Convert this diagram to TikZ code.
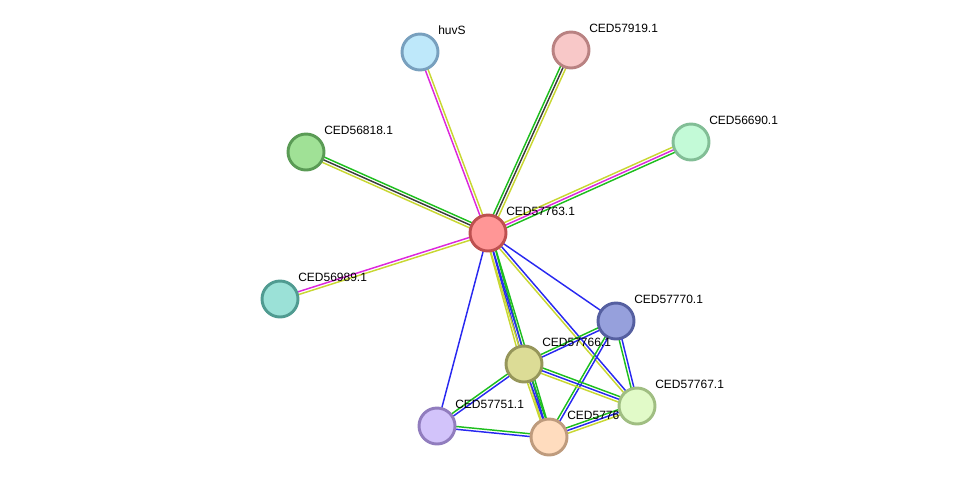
\documentclass[tikz,border=0pt]{standalone}
\usepackage{fontspec}
\setmainfont{Liberation Sans}
\usetikzlibrary{calc}

\definecolor{txtmine}{RGB}{200,215,50}
\definecolor{nbrhood}{RGB}{30,190,30}
\definecolor{coexpr}{RGB}{60,60,60}
\definecolor{expmnt}{RGB}{220,40,220}
\definecolor{cooccur}{RGB}{40,40,240}

\pgfdeclarelayer{bg}
\pgfsetlayers{bg,main}

% one coloured line per evidence channel, side by side
\newcommand\strlink[3]{%
  \foreach \col [count=\n] in {#3} {\xdef\nlink{\n}}%
  \foreach \col [count=\i] in {#3} {%
    \pgfmathsetmacro\lnoff{((\nlink+1)/2-\i)*2.1}%
    \draw[link,\col] ($(#1.center)!\lnoff pt!90:(#2.center)$) -- ($(#2.center)!\lnoff pt!-90:(#1.center)$);
  }%
}

\begin{document}
\begin{tikzpicture}[
    x=0.75pt, y=-0.75pt,
    prot/.style={circle,draw,line width=2.2pt,minimum size=27pt,inner sep=0pt},
    lbl/.style={anchor=west,inner sep=0pt,font=\fontsize{9}{10}\selectfont},
    link/.style={line width=1.1pt}
]
\useasboundingbox (0,0) rectangle (975,482);

\node[prot,fill={rgb,255:red,255;green,150;blue,150},draw={rgb,255:red,190;green,80;blue,80}] (hub) at (488,233) {};
\node[lbl] (hub-t) at ([shift={(18,-22)}]hub.center) {CED57763.1};

\node[prot,fill={rgb,255:red,190;green,232;blue,250},draw={rgb,255:red,120;green,160;blue,190}] (huvS) at (420,52) {};
\node[lbl] (huvS-t) at ([shift={(18,-22)}]huvS.center) {huvS};

\node[prot,fill={rgb,255:red,248;green,200;blue,200},draw={rgb,255:red,185;green,130;blue,130}] (c919) at (571,50) {};
\node[lbl] (c919-t) at ([shift={(18,-22)}]c919.center) {CED57919.1};

\node[prot,fill={rgb,255:red,160;green,225;blue,150},draw={rgb,255:red,90;green,155;blue,85}] (c818) at (306,152) {};
\node[lbl] (c818-t) at ([shift={(18,-22)}]c818.center) {CED56818.1};

\node[prot,fill={rgb,255:red,195;green,250;blue,215},draw={rgb,255:red,130;green,190;blue,150}] (c690) at (691,142) {};
\node[lbl] (c690-t) at ([shift={(18,-22)}]c690.center) {CED56690.1};

\node[prot,fill={rgb,255:red,155;green,225;blue,215},draw={rgb,255:red,80;green,155;blue,145}] (c989) at (280,299) {};
\node[lbl] (c989-t) at ([shift={(18,-22)}]c989.center) {CED56989.1};

\node[prot,fill={rgb,255:red,150;green,160;blue,220},draw={rgb,255:red,85;green,95;blue,160}] (c770) at (616,321) {};
\node[lbl] (c770-t) at ([shift={(18,-22)}]c770.center) {CED57770.1};

\node[prot,fill={rgb,255:red,220;green,220;blue,150},draw={rgb,255:red,150;green,150;blue,90}] (c766) at (524,364) {};
\node[lbl] (c766-t) at ([shift={(18,-22)}]c766.center) {CED57766.1};

\node[prot,fill={rgb,255:red,210;green,195;blue,250},draw={rgb,255:red,145;green,125;blue,190}] (c751) at (437,426) {};
\node[lbl] (c751-t) at ([shift={(18,-22)}]c751.center) {CED57751.1};

\node[prot,fill={rgb,255:red,255;green,220;blue,190},draw={rgb,255:red,190;green,155;blue,125}] (c76x) at (549,437) {};
\node[lbl] (c76x-t) at ([shift={(18,-22)}]c76x.center) {CED5776};

\node[prot,fill={rgb,255:red,225;green,250;blue,200},draw={rgb,255:red,160;green,190;blue,130}] (c767) at (637,406) {};
\node[lbl] (c767-t) at ([shift={(18,-22)}]c767.center) {CED57767.1};

\begin{pgfonlayer}{bg}
\strlink{hub}{huvS}{expmnt,txtmine}
\strlink{hub}{c919}{nbrhood,coexpr,txtmine}
\strlink{hub}{c818}{txtmine,coexpr,nbrhood}
\strlink{hub}{c690}{txtmine,expmnt,nbrhood}
\strlink{hub}{c989}{txtmine,expmnt}
\strlink{hub}{c770}{cooccur}
\strlink{hub}{c751}{cooccur}
\strlink{hub}{c767}{cooccur,txtmine}
\strlink{hub}{c766}{nbrhood,cooccur,txtmine}
\strlink{hub}{c76x}{nbrhood,cooccur,txtmine}
\strlink{c770}{c766}{cooccur,nbrhood}
\strlink{c770}{c767}{cooccur,nbrhood}
\strlink{c770}{c76x}{cooccur,nbrhood}
\strlink{c766}{c767}{nbrhood,cooccur,txtmine}
\strlink{c766}{c751}{cooccur,nbrhood}
\strlink{c766}{c76x}{nbrhood,cooccur,txtmine}
\strlink{c751}{c76x}{nbrhood,cooccur}
\strlink{c76x}{c767}{nbrhood,cooccur,txtmine}
\end{pgfonlayer}

\end{tikzpicture}
\end{document}
